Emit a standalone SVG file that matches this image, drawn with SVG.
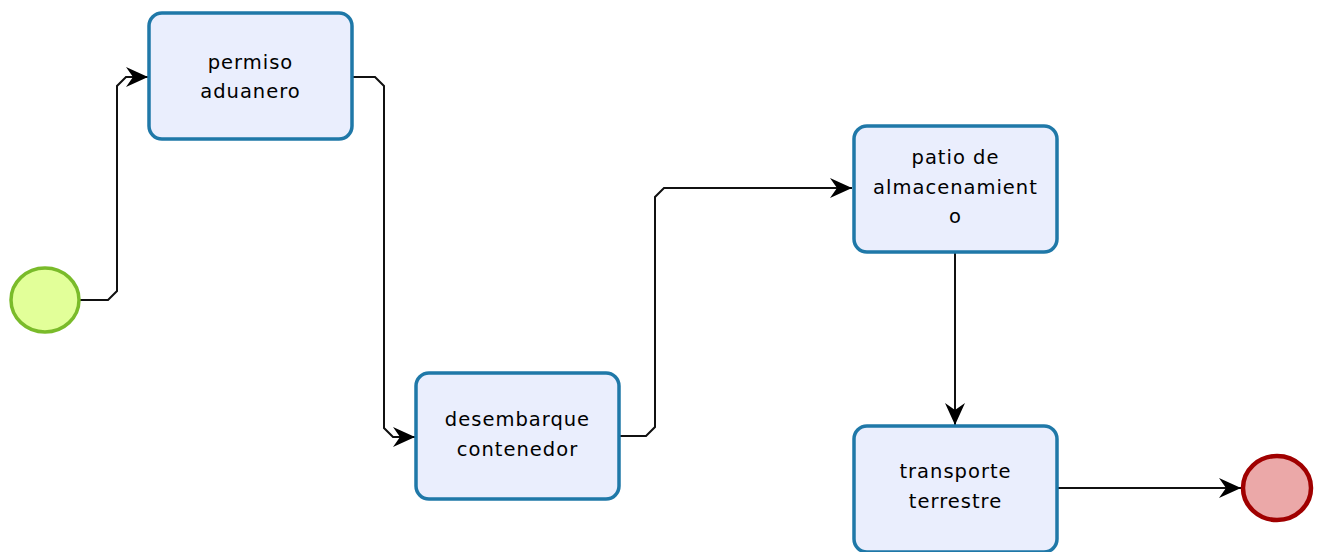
<svg xmlns="http://www.w3.org/2000/svg" width="1322" height="552" viewBox="0 0 1322 552">
  <style>
    .task { fill: #eaeefd; stroke: #1f78a8; stroke-width: 3.5; }
    .label { font-family: "DejaVu Sans", Verdana, sans-serif; font-size: 19.5px; letter-spacing: 1px; fill: #000; text-anchor: middle; }
    .flow { fill: none; stroke: #111; stroke-width: 2; }
    .start { fill: #e2ff99; stroke: #7abb2a; stroke-width: 3.5; }
    .end { fill: #eba8a8; stroke: #a00000; stroke-width: 4.5; }
  </style>
  <defs>
    <marker id="arrow" viewBox="0 0 22 22" refX="22" refY="11" markerWidth="22" markerHeight="22" markerUnits="userSpaceOnUse" orient="auto">
      <path d="M0,1 L22,11 L0,21 L7,11 Z" fill="#000"/>
    </marker>
  </defs>
  <rect width="1322" height="552" fill="#ffffff"/>

  <g id="connectors">
    <path class="flow" d="M80,300 H108 L117,291 V86 L126,77 H148" marker-end="url(#arrow)"/>
    <path class="flow" d="M352,77 H375 L384,86 V428 L393,437 H415" marker-end="url(#arrow)"/>
    <path class="flow" d="M620,436 H646 L655,427 V197 L664,188 H852" marker-end="url(#arrow)"/>
    <path class="flow" d="M955,252 V425" marker-end="url(#arrow)"/>
    <path class="flow" d="M1058,488 H1241" marker-end="url(#arrow)"/>
  </g>

  <g id="start">
    <ellipse class="start" cx="45" cy="300" rx="34" ry="32"/>
  </g>

  <g id="permiso">
    <rect class="task" x="149" y="13" width="203" height="126" rx="13"/>
    <text class="label" x="250.5" y="69">permiso</text>
    <text class="label" x="250.5" y="98">aduanero</text>
  </g>

  <g id="desembarque">
    <rect class="task" x="416" y="373" width="203" height="126" rx="13"/>
    <text class="label" x="517.5" y="426">desembarque</text>
    <text class="label" x="517.5" y="456">contenedor</text>
  </g>

  <g id="patio">
    <rect class="task" x="854" y="126" width="203" height="126" rx="13"/>
    <text class="label" x="955.5" y="164">patio de</text>
    <text class="label" x="955.5" y="194">almacenamient</text>
    <text class="label" x="955.5" y="223">o</text>
  </g>

  <g id="transporte">
    <rect class="task" x="854" y="426" width="203" height="126" rx="13"/>
    <text class="label" x="955.5" y="478">transporte</text>
    <text class="label" x="955.5" y="508">terrestre</text>
  </g>

  <g id="end">
    <ellipse class="end" cx="1277" cy="488" rx="34" ry="32"/>
  </g>
</svg>
